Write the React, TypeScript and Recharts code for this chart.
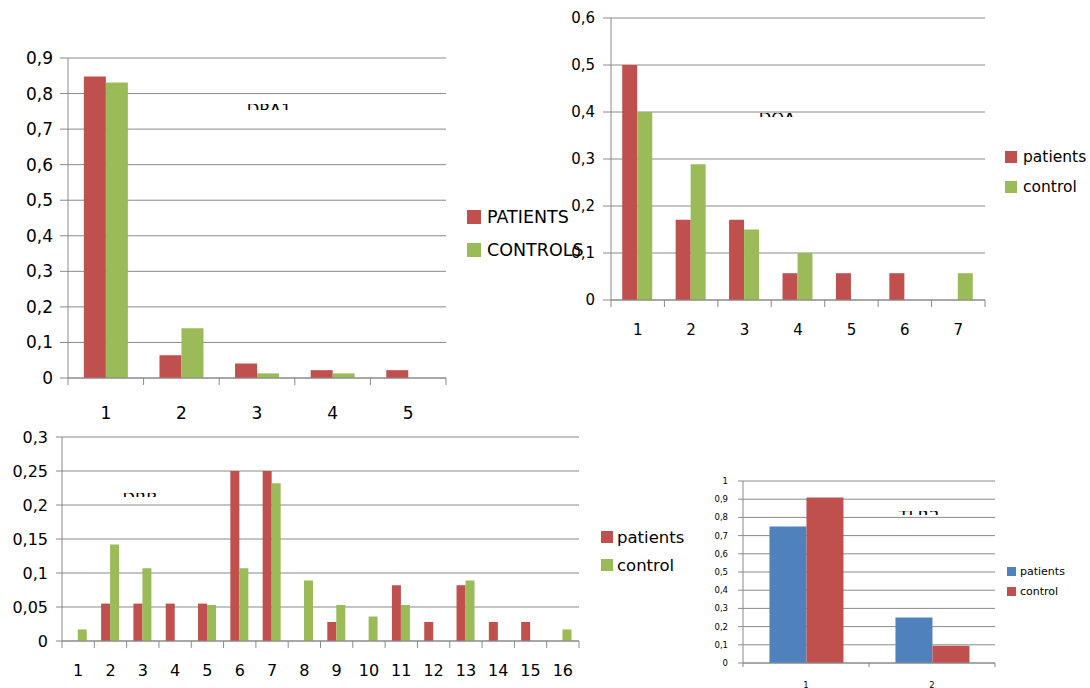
import React from "react";
import { BarChart, Bar, XAxis, YAxis, CartesianGrid, Legend } from "recharts";

const RED = "#C0504D";
const GREEN = "#9BBB59";
const BLUE = "#4F81BD";
const GRID = "#8A8A8A";
const FONT = "'DejaVu Sans', sans-serif";

// DRA1
const dra1Alleles = ["1", "2", "3", "4", "5"];
const dra1Patients = [0.848, 0.064, 0.041, 0.022, 0.022];
const dra1Controls = [0.831, 0.14, 0.013, 0.013, 0];
const dra1Ticks = [0, 0.1, 0.2, 0.3, 0.4, 0.5, 0.6, 0.7, 0.8, 0.9];

// DQA
const dqaAlleles = ["1", "2", "3", "4", "5", "6", "7"];
const dqaPatients = [0.5, 0.171, 0.171, 0.057, 0.057, 0.057, 0];
const dqaControls = [0.4, 0.289, 0.15, 0.1, 0, 0, 0.057];
const dqaTicks = [0, 0.1, 0.2, 0.3, 0.4, 0.5, 0.6];

// DRB
const drbAlleles = ["1", "2", "3", "4", "5", "6", "7", "8", "9", "10", "11", "12", "13", "14", "15", "16"];
const drbPatients = [0, 0.055, 0.055, 0.055, 0.055, 0.25, 0.25, 0, 0.028, 0, 0.082, 0.028, 0.082, 0.028, 0.028, 0];
const drbControls = [0.017, 0.142, 0.107, 0, 0.053, 0.107, 0.232, 0.089, 0.053, 0.036, 0.053, 0, 0.089, 0, 0, 0.017];
const drbTicks = [0, 0.05, 0.1, 0.15, 0.2, 0.25, 0.3];

// TLR2
const tlr2Alleles = ["1", "2"];
const tlr2Patients = [0.75, 0.25];
const tlr2Controls = [0.91, 0.095];
const tlr2Ticks = [0, 0.1, 0.2, 0.3, 0.4, 0.5, 0.6, 0.7, 0.8, 0.9, 1];

const toRows = (cats: string[], a: number[], b: number[]) =>
  cats.map((name, i) => ({ name, patients: a[i], control: b[i] }));

const comma = (v: number) => String(v).replace(".", ",");

const makeXTick = (fontSize: number, dy: number, tickLen: number, count: number) => (props: any) => {
  const { x, y, payload, index } = props;
  const half = payload && payload.offset != null ? payload.offset : props.width / (props.visibleTicksCount || count) / 2;
  return (
    <g>
      <line x1={x - half} x2={x - half} y1={y} y2={y + tickLen} stroke={GRID} />
      {index === count - 1 && <line x1={x + half} x2={x + half} y1={y} y2={y + tickLen} stroke={GRID} />}
      <text x={x} y={y + dy} textAnchor="middle" dominantBaseline="central" fontSize={fontSize} fontFamily={FONT} fill="#000">
        {payload.value}
      </text>
    </g>
  );
};

type Series = { key: string; name: string; color: string };

const Panel = (p: any) => {
  const series: Series[] = p.series;
  const legendContent = () => (
    <div style={{ paddingLeft: p.lg.pad, fontFamily: FONT, fontSize: p.lg.font, color: "#000" }}>
      {series.map((s) => (
        <div key={s.key} style={{ display: "flex", alignItems: "center", height: p.lg.rowH }}>
          <span style={{ width: p.lg.sq, height: p.lg.sq, background: s.color, marginRight: p.lg.gap, flex: "none" }} />
          <span style={{ whiteSpace: "nowrap" }}>{s.name}</span>
        </div>
      ))}
    </div>
  );
  return (
    <div style={{ position: "absolute", left: p.left, top: p.top, width: p.width, height: p.height }}>
      <BarChart
        width={p.width}
        height={p.height}
        data={p.data}
        margin={p.margin}
        barGap={0}
        barCategoryGap="21%"
      >
        <CartesianGrid vertical={false} stroke={GRID} />
        <XAxis
          dataKey="name"
          interval={0}
          height={p.xHeight}
          tickLine={false}
          tickSize={0}
          tickMargin={0}
          axisLine={{ stroke: GRID }}
          tick={makeXTick(p.font, p.xDy, p.xTickLen, p.data.length)}
        />
        <YAxis
          width={p.yWidth}
          domain={[0, p.ticks[p.ticks.length - 1]]}
          ticks={p.ticks}
          interval={0}
          tickFormatter={comma}
          tickSize={p.yTickSize}
          tickMargin={p.yTickMargin}
          tickLine={{ stroke: GRID }}
          axisLine={{ stroke: GRID }}
          tick={{ fill: "#000", fontSize: p.font, fontFamily: FONT }}
        />
        <Legend
          layout="vertical"
          align="right"
          verticalAlign="middle"
          width={p.lg.width}
          wrapperStyle={{ top: p.lg.top }}
          content={legendContent}
        />
        {series.map((s) => (
          <Bar key={s.key} dataKey={s.key} name={s.name} fill={s.color} isAnimationActive={false} />
        ))}
      </BarChart>
    </div>
  );
};

const titles = [
  { text: "DRA1", cx: 269, top: 104, h: 6 },
  { text: "DQA", cx: 777, top: 113, h: 3.5 },
  { text: "DRB", cx: 140, top: 493, h: 4 },
  { text: "TLR2", cx: 919, top: 511, h: 3.5 },
];

export default function App() {
  return (
    <div style={{ position: "absolute", left: 0, top: 0, width: 1090, height: 688, background: "#fff", overflow: "hidden" }}>
      <Panel
        left={0}
        top={40}
        width={600}
        height={400}
        margin={{ top: 18, right: 0, bottom: 12, left: 0 }}
        data={toRows(dra1Alleles, dra1Patients, dra1Controls)}
        series={[
          { key: "patients", name: "PATIENTS", color: RED },
          { key: "control", name: "CONTROLS", color: GREEN },
        ]}
        ticks={dra1Ticks}
        yWidth={68}
        xHeight={50}
        xDy={35}
        xTickLen={7}
        yTickSize={8}
        yTickMargin={7}
        font={17}
        lg={{ width: 154, pad: 21, sq: 14, gap: 6, rowH: 33, top: 160.5, font: 17.5 }}
      />
      <Panel
        left={560}
        top={0}
        width={530}
        height={345}
        margin={{ top: 18, right: 0, bottom: 5, left: 0 }}
        data={toRows(dqaAlleles, dqaPatients, dqaControls)}
        series={[
          { key: "patients", name: "patients", color: RED },
          { key: "control", name: "control", color: GREEN },
        ]}
        ticks={dqaTicks}
        yWidth={51}
        xHeight={40}
        xDy={30}
        xTickLen={7}
        yTickSize={8}
        yTickMargin={8}
        font={15}
        lg={{ width: 105, pad: 20, sq: 12, gap: 6, rowH: 30, top: 142, font: 15.5 }}
      />
      <Panel
        left={0}
        top={425}
        width={700}
        height={263}
        margin={{ top: 12, right: 0, bottom: 7, left: 0 }}
        data={toRows(drbAlleles, drbPatients, drbControls)}
        series={[
          { key: "patients", name: "patients", color: RED },
          { key: "control", name: "control", color: GREEN },
        ]}
        ticks={drbTicks}
        yWidth={62}
        xHeight={40}
        xDy={29}
        xTickLen={7}
        yTickSize={6}
        yTickMargin={8}
        font={16}
        lg={{ width: 121, pad: 22, sq: 12, gap: 4, rowH: 28, top: 98, font: 16.5 }}
      />
      <Panel
        left={690}
        top={470}
        width={400}
        height={218}
        margin={{ top: 11, right: 0, bottom: 0, left: 0 }}
        data={toRows(tlr2Alleles, tlr2Patients, tlr2Controls)}
        series={[
          { key: "patients", name: "patients", color: BLUE },
          { key: "control", name: "control", color: RED },
        ]}
        ticks={tlr2Ticks}
        yWidth={53}
        xHeight={25}
        xDy={22}
        xTickLen={4}
        yTickSize={5}
        yTickMargin={10}
        font={8.5}
        lg={{ width: 95, pad: 12, sq: 9, gap: 4, rowH: 20, top: 91, font: 11 }}
      />
      {titles.map((t) => (
        <div
          key={t.text}
          style={{ position: "absolute", left: t.cx - 50, width: 100, top: t.top, height: t.h, overflow: "hidden", textAlign: "center" }}
        >
          <div style={{ position: "relative", top: -2, fontFamily: FONT, fontSize: 16.3, lineHeight: 1, color: "#000" }}>{t.text}</div>
        </div>
      ))}
    </div>
  );
}
